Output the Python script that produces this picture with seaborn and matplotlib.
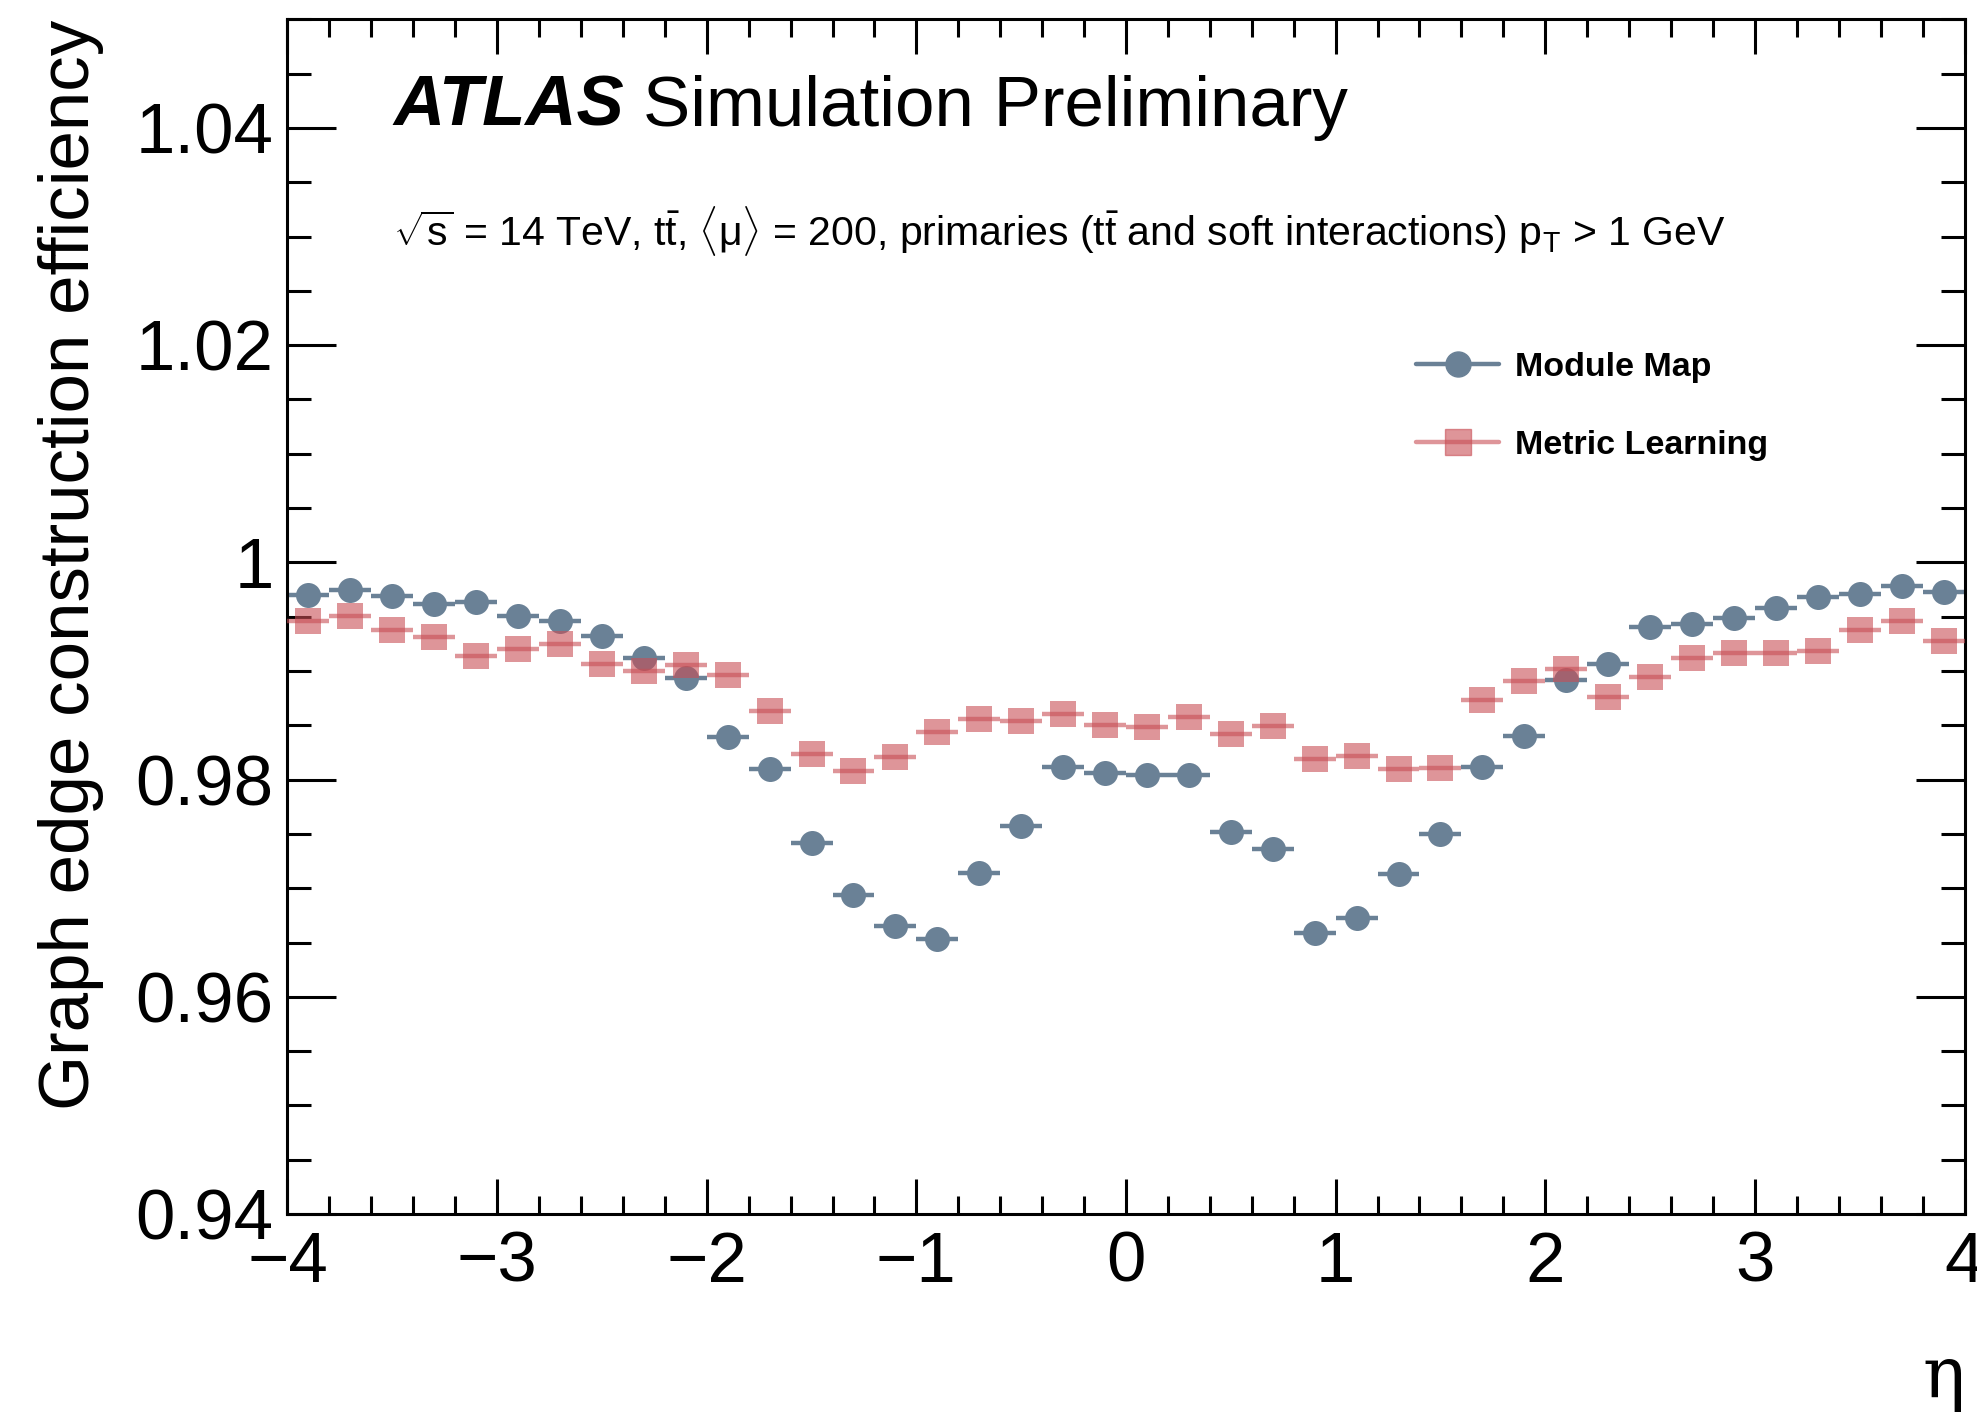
import numpy as np
import pandas as pd
import matplotlib
matplotlib.use("Agg")
import matplotlib.pyplot as plt
import seaborn as sns
from matplotlib.lines import Line2D
from matplotlib.ticker import MultipleLocator, FixedLocator, FuncFormatter

# ---- data ----
eta_centers = [-3.9, -3.7, -3.5, -3.3, -3.1, -2.9, -2.7, -2.5, -2.3, -2.1,
               -1.9, -1.7, -1.5, -1.3, -1.1, -0.9, -0.7, -0.5, -0.3, -0.1,
               0.1, 0.3, 0.5, 0.7, 0.9, 1.1, 1.3, 1.5, 1.7, 1.9,
               2.1, 2.3, 2.5, 2.7, 2.9, 3.1, 3.3, 3.5, 3.7, 3.9]
bin_half_width = 0.1

module_map = [0.99703, 0.99742, 0.99694, 0.99617, 0.99638, 0.99507, 0.99461, 0.99319, 0.99120, 0.98936,
              0.98393, 0.98101, 0.97420, 0.96935, 0.96653, 0.96534, 0.97141, 0.97570, 0.98120, 0.98062,
              0.98038, 0.98047, 0.97519, 0.97359, 0.96592, 0.96727, 0.97128, 0.97500, 0.98117, 0.98402,
              0.98914, 0.99065, 0.99408, 0.99429, 0.99491, 0.99583, 0.99684, 0.99712, 0.99779, 0.99727]

metric_learning = [0.99458, 0.99503, 0.99381, 0.99316, 0.99141, 0.99206, 0.99252, 0.99068, 0.98997, 0.99052,
                   0.98966, 0.98636, 0.98239, 0.98083, 0.98212, 0.98442, 0.98561, 0.98543, 0.98607, 0.98506,
                   0.98487, 0.98579, 0.98423, 0.98497, 0.98193, 0.98221, 0.98101, 0.98110, 0.98736, 0.98905,
                   0.99015, 0.98764, 0.98948, 0.99116, 0.99162, 0.99162, 0.99187, 0.99381, 0.99463, 0.99279]

series_names = ["Module Map", "Metric Learning"]
y_major_ticks = [0.94, 0.96, 0.98, 1.00, 1.02, 1.04]
x_major_ticks = [-4, -3, -2, -1, 0, 1, 2, 3, 4]

# ---- style ----
sns.set_theme(style="ticks")
plt.rcParams["font.family"] = ["Liberation Sans", "DejaVu Sans"]
plt.rcParams["text.color"] = "black"
plt.rcParams["axes.labelcolor"] = "black"
plt.rcParams["xtick.color"] = "black"
plt.rcParams["ytick.color"] = "black"
plt.rcParams["mathtext.fontset"] = "custom"
plt.rcParams["mathtext.rm"] = "Liberation Sans"
plt.rcParams["mathtext.it"] = "Liberation Sans:italic"
plt.rcParams["mathtext.bf"] = "Liberation Sans:bold"
plt.rcParams["mathtext.sf"] = "Liberation Sans"

col_mm = "#6a8196"
col_ml = "#c84e55"
alpha_ml = 0.6

df = pd.DataFrame({
    "eta": eta_centers * 2,
    "eff": module_map + metric_learning,
    "method": [series_names[0]] * len(eta_centers) + [series_names[1]] * len(eta_centers),
})

fig = plt.figure(figsize=(19.77, 14.13), dpi=100)
ax = fig.add_axes([0.1454, 0.1408, 0.9937 - 0.1454, 0.9863 - 0.1408])

eta = np.array(eta_centers)
# Module Map: bin-width bars + markers
ax.hlines(module_map, eta - bin_half_width, eta + bin_half_width, colors=col_mm, linewidth=3.2, zorder=2)
sns.scatterplot(data=df[df["method"] == series_names[0]], x="eta", y="eff", ax=ax,
                color=col_mm, marker="o", s=18 ** 2, linewidth=0, legend=False, zorder=3)
# Metric Learning
ax.hlines(metric_learning, eta - bin_half_width, eta + bin_half_width, colors=col_ml,
          linewidth=3.2, alpha=alpha_ml, zorder=4)
sns.scatterplot(data=df[df["method"] == series_names[1]], x="eta", y="eff", ax=ax,
                color=col_ml, marker="s", s=18.5 ** 2, linewidth=0, alpha=alpha_ml, legend=False, zorder=5)

ax.set_xlim(-4, 4)
ax.set_ylim(0.94, 1.05)

ax.xaxis.set_major_locator(FixedLocator(x_major_ticks))
ax.xaxis.set_minor_locator(MultipleLocator(0.2))
ax.yaxis.set_major_locator(FixedLocator(y_major_ticks))
ax.yaxis.set_minor_locator(MultipleLocator(0.005))
ax.yaxis.set_major_formatter(FuncFormatter(lambda v, p: f"{round(v, 4):g}"))
ax.xaxis.set_major_formatter(FuncFormatter(lambda v, p: f"{int(round(v))}".replace("-", "\u2212")))

ax.tick_params(which="both", direction="in", top=True, right=True, width=2.2, labelsize=51, colors="black")
ax.tick_params(axis="x", which="major", length=25, pad=12)
ax.tick_params(axis="x", which="minor", length=13)
ax.tick_params(axis="y", which="major", length=35, pad=10)
ax.tick_params(axis="y", which="minor", length=17.5)
for sp in ax.spines.values():
    sp.set_linewidth(2.2)
    sp.set_color("black")

ax.set_xlabel("")
ax.set_ylabel("Graph edge construction efficiency", fontsize=51, loc="top", color="black")
ax.yaxis.set_label_coords(-0.1095, 1.0)
fig.text(0.9937, 0.011, "\u03b7", fontsize=51, ha="right", va="baseline", family=["DejaVu Serif"])

# ATLAS label
fig.text(393 / 1977, 1 - 126 / 1413, "ATLAS", fontsize=51, fontweight="bold", fontstyle="italic",
         ha="left", va="baseline")
fig.text(643 / 1977, 1 - 126 / 1413, "Simulation Preliminary", fontsize=51, ha="left", va="baseline")
fig.text(393 / 1977, 1 - 246 / 1413,
         r"$\sqrt{\mathrm{s}}$ = 14 TeV, $\mathrm{t\bar{t}}$, $\langle\mathrm{\mu}\rangle$ = 200, "
         r"primaries ($\mathrm{t\bar{t}}$ and soft interactions) $\mathrm{p_{T}}$ > 1 GeV",
         fontsize=29.5, ha="left", va="baseline")

handles = [
    Line2D([], [], color=col_mm, marker="o", markersize=18, linewidth=3.2),
    Line2D([], [], color=col_ml, marker="s", markersize=18.5, linewidth=3.2, alpha=alpha_ml),
]
leg = ax.legend(handles, series_names, loc="upper left", bbox_to_anchor=(0.663, 0.736),
                frameon=False, borderpad=0, handlelength=2.43, handletextpad=0.48,
                labelspacing=1.38, prop={"size": 24.5, "weight": "bold"})
for t in leg.get_texts():
    t.set_color("black")

fig.savefig("out.png", dpi=100)
